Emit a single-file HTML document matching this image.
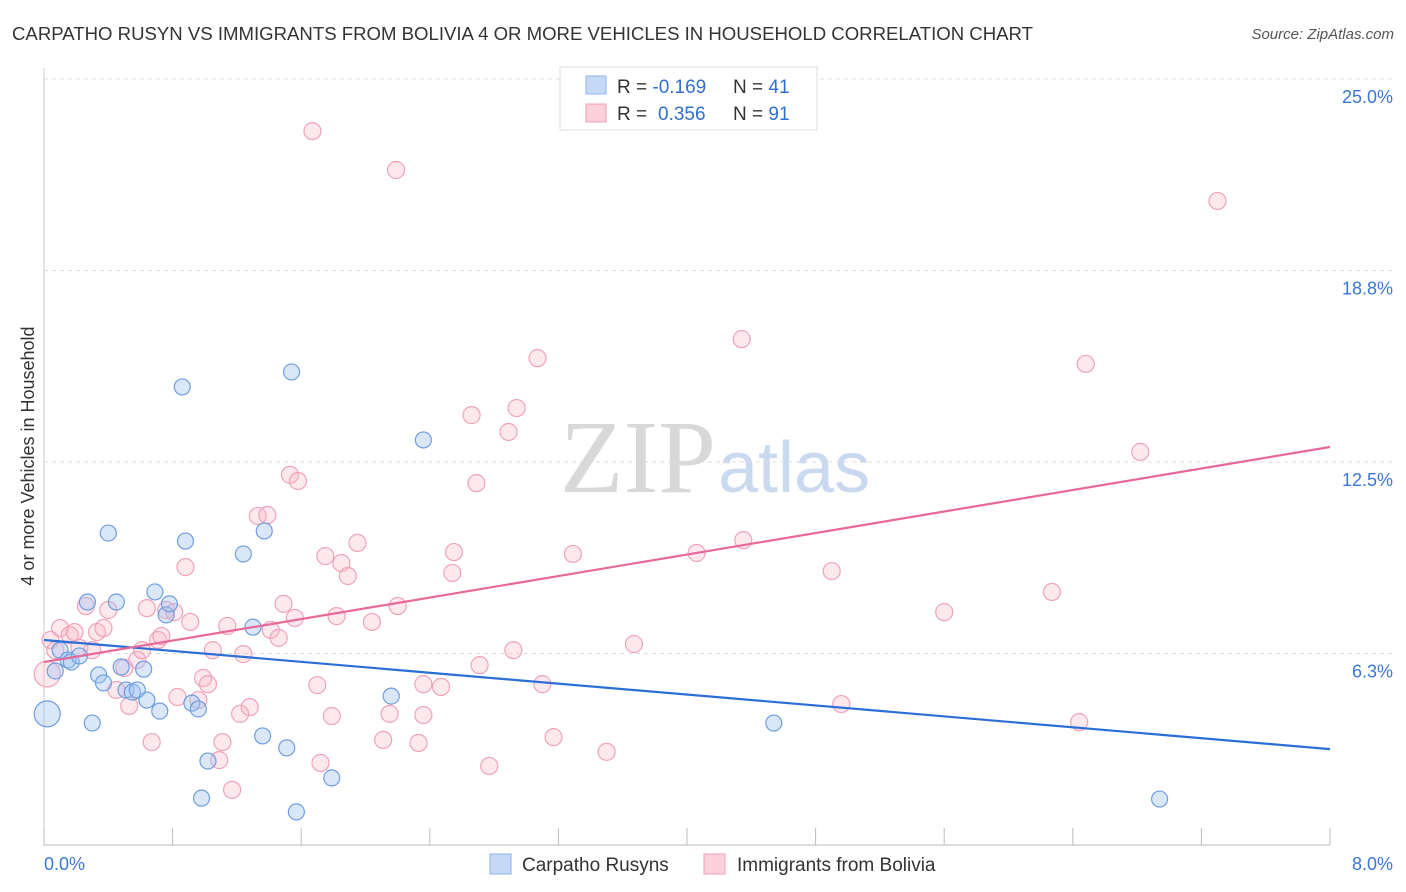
<!DOCTYPE html>
<html><head><meta charset="utf-8">
<style>
body{margin:0;background:#fff;font-family:"Liberation Sans",sans-serif;}
svg{display:block}
</style></head>
<body>
<svg id="chart" width="1406" height="892">
<text x="12" y="40" font-size="18" fill="#333" textLength="1021" lengthAdjust="spacingAndGlyphs">CARPATHO RUSYN VS IMMIGRANTS FROM BOLIVIA 4 OR MORE VEHICLES IN HOUSEHOLD CORRELATION CHART</text>
<text x="1394" y="39" font-size="15" fill="#555" font-style="italic" text-anchor="end">Source: ZipAtlas.com</text>
<text x="716" y="492" font-size="104" fill="#d8d8d8" text-anchor="end" font-family="Liberation Serif">ZIP</text>
<text x="718" y="492" font-size="72" fill="#c9daf0">atlas</text>
<g id="grid"></g>
<g id="axes"></g>
<g id="points"></g>
<g id="lines"></g>
<text transform="translate(34,456) rotate(-90)" font-size="18" fill="#333" text-anchor="middle">4 or more Vehicles in Household</text>
<g>
<rect x="560" y="67" width="257" height="63" fill="#fff" stroke="#ddd"/>
<rect x="586" y="76" width="20" height="18" fill="#c5d9f7" stroke="#8fb2e8"/>
<rect x="586" y="104" width="20" height="18" fill="#fcd0dc" stroke="#f0a2b9"/>
<text x="617" y="93" font-size="19" fill="#333">R = <tspan fill="#2f6fd0">-0.169</tspan><tspan x="733">N = </tspan><tspan fill="#2f6fd0">41</tspan></text>
<text x="617" y="120" font-size="19" fill="#333">R = <tspan fill="#2f6fd0" x="658">0.356</tspan><tspan x="733">N = </tspan><tspan fill="#2f6fd0">91</tspan></text>
</g>
<g>
<rect x="490" y="854" width="21" height="20" fill="#c5d9f7" stroke="#8fb2e8"/>
<text x="522" y="871" font-size="19" fill="#333">Carpatho Rusyns</text>
<rect x="704" y="854" width="21" height="20" fill="#fcd0dc" stroke="#f0a2b9"/>
<text x="737" y="871" font-size="19" fill="#333">Immigrants from Bolivia</text>
</g>
</svg>
<script>
const yTicks=[6.25,12.5,18.75,25];
const yTickLabels=["6.3%","12.5%","18.8%","25.0%"];
const blueX=[.02,.07,.10,.15,.17,.22,.27,.30,.34,.37,.40,.45,.48,.51,.55,.58,.62,.64,.69,.72,.76,.78,.86,.88,.92,.96,1.02,.98,1.24,1.30,1.36,1.37,1.51,1.54,1.57,1.79,2.16,2.36,4.54,6.94];
const blueY=[4.28,5.68,6.36,6.04,5.97,6.17,7.93,3.98,5.55,5.29,10.18,7.93,5.81,5.06,4.99,5.06,5.74,4.73,8.26,4.37,7.51,7.87,14.95,9.92,4.63,4.44,2.74,1.53,9.50,7.11,3.56,10.25,3.17,15.44,1.08,2.19,4.86,13.22,3.98,1.50];
const pinkX=[.02,.04,.07,.10,.16,.19,.22,.26,.30,.33,.37,.40,.45,.50,.53,.58,.61,.64,.67,.71,.73,.76,.81,.83,.88,.91,.96,.99,1.02,1.05,1.09,1.11,1.14,1.17,1.22,1.24,1.28,1.33,1.39,1.41,1.46,1.49,1.53,1.58,1.56,1.67,1.70,1.72,1.75,1.79,1.82,1.85,1.89,1.95,2.04,2.11,2.15,2.19,2.20,2.33,2.36,2.36,2.47,2.54,2.55,2.66,2.69,2.71,2.77,2.89,2.92,2.94,3.10,3.17,3.07,3.29,3.50,3.67,4.06,4.34,4.35,4.90,4.96,5.60,6.27,6.44,6.48,6.82,7.30];
const pinkY=[5.58,6.69,6.36,7.08,6.85,6.95,6.43,7.80,6.36,6.95,7.08,7.67,5.06,5.78,4.54,6.04,6.36,7.73,3.36,6.69,6.82,7.67,7.60,4.83,9.07,7.28,4.73,5.45,5.25,6.36,2.77,3.36,7.15,1.80,4.28,6.23,4.50,10.74,10.77,7.02,6.76,7.87,12.08,11.88,7.41,23.30,5.22,2.68,9.43,4.21,7.47,9.20,8.78,9.86,7.28,3.43,4.28,22.03,7.80,3.33,5.25,4.24,5.16,8.88,9.56,14.03,11.81,5.87,2.58,13.48,6.36,14.26,5.25,3.52,15.89,9.50,3.04,6.56,9.53,16.51,9.95,8.94,4.60,7.60,8.26,4.01,15.70,12.83,21.02];
const blueTrend=[6.69,3.13];
const pinkTrend=[5.97,12.99];
const NS="http://www.w3.org/2000/svg";
const X=v=>44+v*160.75, Y=v=>845-v*30.64;
function mk(tag,attrs,parent){const e=document.createElementNS(NS,tag);for(const k in attrs)e.setAttribute(k,attrs[k]);document.getElementById(parent).appendChild(e);return e;}
yTicks.forEach((t,i)=>{
 const l=mk('line',{x1:44,x2:1394,y1:Y(t),y2:Y(t),stroke:'#ddd','stroke-dasharray':'4,4'},'grid');
 
 
 const tx=mk('text',{x:1393,y:Y(t)+24,'font-size':18,fill:'#3a78d4','text-anchor':'end'},'grid');
 tx.textContent=yTickLabels[i];
 
 
});
const ax=mk('line',{x1:44,x2:1330,y1:845,y2:845,stroke:'#bbb'},'axes');


const ay=mk('line',{x1:44,x2:44,y1:68,y2:845,stroke:'#ccc'},'axes');


for(let i=0;i<=10;i++){const t=mk('line',{x1:X(i*0.8),x2:X(i*0.8),y1:828,y2:845,stroke:'#bbb'},'axes');
 
 }
const xl0=mk('text',{x:44,y:870,'font-size':18,fill:'#3a78d4'},'axes');xl0.textContent='0.0%';


const xl1=mk('text',{x:1393,y:870,'font-size':18,fill:'#3a78d4','text-anchor':'end'},'axes');xl1.textContent='8.0%';


pinkX.forEach((x,i)=>{const c=mk('circle',{cx:X(x),cy:Y(pinkY[i]),r:i===0?13:8.5,fill:'rgba(248,180,200,0.3)',stroke:'#f0a2b9','stroke-width':1.2},'points');
 
 });
blueX.forEach((x,i)=>{const c=mk('circle',{cx:X(x),cy:Y(blueY[i]),r:i===0?13:8,fill:'rgba(160,195,240,0.4)',stroke:'#6e9ee0','stroke-width':1.2},'points');
 
 });
const bl=mk('line',{x1:X(0),x2:X(8),y1:Y(blueTrend[0]),y2:Y(blueTrend[1]),stroke:'#2b6fd6','stroke-width':2.2},'lines');


const pl=mk('line',{x1:X(0),x2:X(8),y1:Y(pinkTrend[0]),y2:Y(pinkTrend[1]),stroke:'#e8689a','stroke-width':2.2},'lines');


</script>
</body></html>
